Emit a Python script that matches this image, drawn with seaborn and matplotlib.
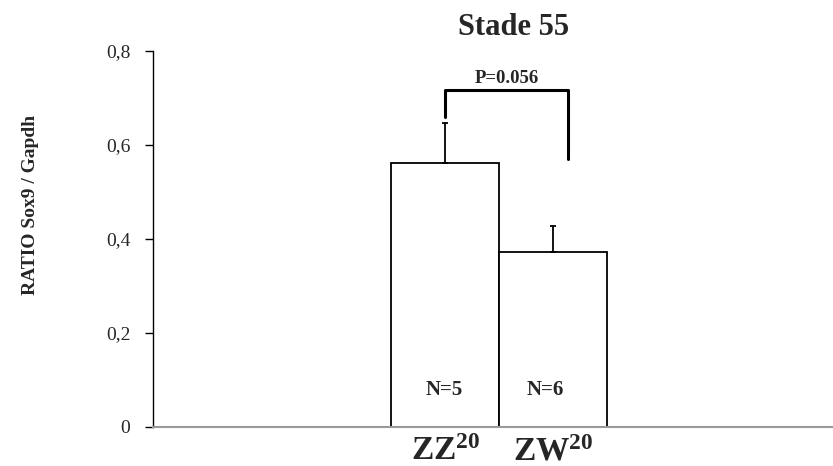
import matplotlib
matplotlib.use("Agg")
import matplotlib.pyplot as plt
import pandas as pd
import seaborn as sns

GROUPS = ["ZZ", "ZW"]
GROUP_LABELS = ["ZZ$^{20}$", "ZW$^{20}$"]
RATIOS = [0.562, 0.372]
SEM = [0.085, 0.056]
N_LABELS = ["N=5", "N=6"]
N_LABEL_X = [-0.014, 0.921]
Y_TICKS = [0, 0.2, 0.4, 0.6, 0.8]
Y_TICK_LABELS = ["0", "0,2", "0,4", "0,6", "0,8"]
P_TEXT = "P=0.056"
BRACKET_TOP = 0.717
BRACKET_LEFT_END = 0.66
BRACKET_RIGHT_END = 0.569


def main() -> None:
    sns.set_style("white")
    plt.rcParams["font.family"] = ["Liberation Serif", "DejaVu Serif"]
    plt.rcParams["mathtext.fontset"] = "custom"
    plt.rcParams["mathtext.rm"] = "Liberation Serif:bold"
    plt.rcParams["mathtext.it"] = "Liberation Serif:bold"
    plt.rcParams["mathtext.bf"] = "Liberation Serif:bold"

    df = pd.DataFrame({"group": GROUPS, "ratio": RATIOS})

    fig = plt.figure(figsize=(8.33, 4.66), dpi=100)
    ax = fig.add_axes([0.1833, 0.0843, 0.8167, 0.8069])

    sns.barplot(data=df, x="group", y="ratio", order=GROUPS, width=1.0,
                color="white", edgecolor="black", linewidth=1.3,
                errorbar=None, ax=ax)
    ax.errorbar([0, 1], RATIOS, yerr=[[0, 0], SEM], fmt="none",
                ecolor="black", elinewidth=1.3, capsize=2, capthick=1.3)

    # significance bracket
    ax.plot([0, 0, 1.137, 1.137],
            [BRACKET_LEFT_END, BRACKET_TOP, BRACKET_TOP, BRACKET_RIGHT_END],
            color="black", linewidth=2.2)
    ax.text(0.57, BRACKET_TOP + 0.006, P_TEXT, ha="center", va="bottom",
            fontsize=13.5, fontweight="bold")

    for x, lab in zip(N_LABEL_X, N_LABELS):
        ax.text(x, 0.078, lab, ha="center", va="center",
                fontsize=15, fontweight="bold")

    ax.set_xlim(-2.711, 3.588)
    ax.set_ylim(0, 0.8)
    ax.set_yticks(Y_TICKS)
    ax.set_yticklabels(Y_TICK_LABELS, fontsize=14)
    ax.set_xticks([0, 1])
    ax.set_xticklabels(GROUP_LABELS, fontsize=24, fontweight="bold")
    ax.tick_params(axis="y", direction="out", length=6, width=1, color="black",
                   left=True, pad=10)
    ax.tick_params(axis="x", length=0, pad=7)
    ax.set_xlabel("")
    ax.set_ylabel("RATIO Sox9 / Gapdh", fontsize=14, fontweight="bold")
    ax.yaxis.set_label_coords(-0.167, 0.59)
    ax.set_title("Stade 55", fontsize=22, fontweight="bold", pad=11, x=0.531)

    sns.despine(ax=ax, top=True, right=True)
    ax.spines["left"].set_color("black")
    ax.spines["left"].set_linewidth(1)
    ax.spines["bottom"].set_color("#999999")
    ax.spines["bottom"].set_linewidth(1.5)

    fig.savefig("out.png", dpi=100)
    plt.close(fig)


if __name__ == "__main__":
    main()
